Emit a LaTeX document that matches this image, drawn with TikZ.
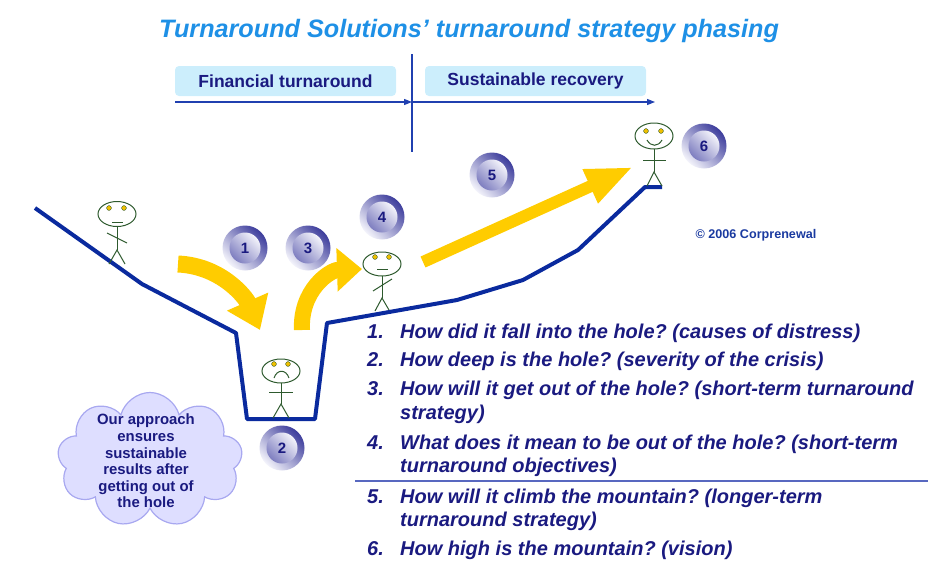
\documentclass[tikz,border=0pt]{standalone}
\usepackage{fontspec}
\setmainfont{Liberation Sans}
\usetikzlibrary{arrows.meta,shapes.symbols}
\frenchspacing
\definecolor{titleblue}{HTML}{1E90E6}
\definecolor{navy}{HTML}{1A1A80}
\definecolor{terrainblue}{HTML}{0A2A9E}
\definecolor{phasefill}{HTML}{CCEEFC}
\definecolor{axisblue}{HTML}{2040B0}
\definecolor{figgreen}{HTML}{2E5A2E}
\definecolor{eyeyellow}{HTML}{F0C000}
\definecolor{arrowyellow}{HTML}{FFCC00}
\definecolor{clouddraw}{HTML}{A8A8F0}
\definecolor{cloudfill}{HTML}{DEDEFF}
\definecolor{bdark}{HTML}{3C3C9C}
\definecolor{blight}{HTML}{F4F4FB}
\definecolor{bmid}{HTML}{7E7EC0}
\definecolor{copyblue}{HTML}{1A3AA0}
\definecolor{sepblue}{HTML}{5868C0}
\tikzset{
  phase/.style={fill=phasefill, rounded corners=4pt, minimum width=221pt, minimum height=30pt, inner sep=0pt,
    font=\fontsize{17.5}{20}\selectfont\bfseries, text=navy},
  axisline/.style={draw=axisblue, line width=1.1pt, -{Triangle[length=8pt,width=6pt]}},
  vline/.style={draw=axisblue, line width=1.1pt},
  terrain/.style={draw=terrainblue, line width=4pt, line join=round},
  fig/.style={draw=figgreen, line width=1pt},
  eye/.style={fill=eyeyellow, draw=figgreen, line width=0.4pt},
  yarrow/.style={draw=arrowyellow},
  bouter/.style={circle, minimum size=45pt, inner sep=0pt, left color=bdark, right color=blight, shading angle=-45},
  binner/.style={circle, minimum size=31pt, inner sep=0pt, left color=blight, right color=bmid, shading angle=-45,
    font=\fontsize{15}{17}\selectfont\bfseries, text=navy},
  listtxt/.style={anchor=base west, inner sep=0pt, font=\fontsize{20}{22}\selectfont\bfseries\itshape, text=navy},
  sepline/.style={draw=sepblue, line width=1.3pt}
}
\begin{document}
\begin{tikzpicture}[x=1pt,y=-1pt]
\useasboundingbox (0,0) rectangle (950,574);
% title
\node[font=\fontsize{25.2}{29}\selectfont\bfseries\itshape, text=titleblue] (title) at (469,31)
  {Turnaround Solutions’ turnaround strategy phasing};
% phases
\node[phase] (fin) at (285.5,81) {Financial turnaround};
\node[phase] (sus) at (535.5,81) {Sustainable recovery};
\coordinate (a0) at (175,102);
\coordinate (amid) at (412,102);
\coordinate (aend) at (655,102);
\coordinate (v0) at (412,54);
\coordinate (v1) at (412,152);
\draw[axisline] (a0) -- (amid);
\draw[axisline] (amid) -- (aend);
\draw[vline] (v0) -- (v1);
% terrain
\draw[terrain] (35,208) -- (142,284) -- (236,333) -- (247,419) -- (315,419) -- (327,323)
  -- (457,300) -- (523,280) -- (578,250) -- (645,187) -- (662,187);
% yellow arrows
\draw[yarrow, line width=17pt, -{Triangle[length=31pt,width=43pt]}] (178,264) .. controls (222,266) and (246,298) .. (260,330);
\draw[yarrow, line width=16pt, -{Triangle[length=25pt,width=42pt]}] (302,330) .. controls (300,290) and (330,270) .. (362,269);
\draw[yarrow, line width=12pt, -{Triangle[length=47pt,width=34pt]}] (423,262) -- (633,167);
% figure 1
\draw[fig] (117,214) ellipse (19 and 12.5);
\filldraw[eye] (109,208) circle (2.4) (124,208) circle (2.4);
\draw[fig] (112,222) -- (123,222);
\draw[fig] (117,226.5) -- (117,250);
\draw[fig] (107,233) -- (127,243);
\draw[fig] (109,264) -- (117,250) -- (125,264);
% figure 2
\draw[fig] (281,371) ellipse (19 and 12);
\filldraw[eye] (274,364) circle (2.4) (288,364) circle (2.4);
\draw[fig] (274,378) .. controls (277,369) and (286,369) .. (289,378);
\draw[fig] (281,383) -- (281,404);
\draw[fig] (269,392) -- (293,392);
\draw[fig] (273,418) -- (281,404) -- (289,418);
% figure 3
\draw[fig] (382,264) ellipse (19 and 12);
\filldraw[eye] (375,257) circle (2.4) (389,257) circle (2.4);
\draw[fig] (377,269) -- (388,269);
\draw[fig] (382,276) -- (382,298);
\draw[fig] (373,291) -- (392,279);
\draw[fig] (375,311) -- (382,298) -- (389,310);
% figure 4
\draw[fig] (654,136) ellipse (19 and 13);
\filldraw[eye] (646,131) circle (2.4) (661,131) circle (2.4);
\draw[fig] (647,140) .. controls (651,147) and (658,147) .. (662,140);
\draw[fig] (654,149) -- (654,172);
\draw[fig] (643,160) -- (666,160);
\draw[fig] (647,186) -- (654,172) -- (662,186);
% badges
\node[bouter] (b1o) at (245,248) {};
\node[binner] (b1) at (b1o) {1};
\node[bouter] (b2o) at (282,448) {};
\node[binner] (b2) at (b2o) {2};
\node[bouter] (b3o) at (308,248) {};
\node[binner] (b3) at (b3o) {3};
\node[bouter] (b4o) at (382,217) {};
\node[binner] (b4) at (b4o) {4};
\node[bouter] (b5o) at (492,175) {};
\node[binner] (b5) at (b5o) {5};
\node[bouter] (b6o) at (704,146) {};
\node[binner] (b6) at (b6o) {6};
% cloud
\node[cloud, cloud puffs=9, aspect=1.35, draw=clouddraw, fill=cloudfill, line width=1.2pt,
  minimum width=185pt, minimum height=135pt, inner sep=0pt] (cloud) at (150,460) {};
\node[font=\fontsize{14.9}{16.6}\selectfont\bfseries, text=navy, align=center] (cloudtxt) at (146,461)
  {Our approach\\ensures\\sustainable\\results after\\getting out of\\the hole};
% copyright
\node[font=\fontsize{12.6}{14}\selectfont\bfseries, text=copyblue] (copy) at (756,235) {© 2006 Corprenewal};
% list
\node[listtxt] (n1) at (367,338) {1.};
\node[listtxt] (t1) at (400,338) {How did it fall into the hole? (causes of distress)};
\node[listtxt] (n2) at (367,366) {2.};
\node[listtxt] (t2) at (400,366) {How deep is the hole? (severity of the crisis)};
\node[listtxt] (n3) at (367,395) {3.};
\node[listtxt] (t3) at (400,395) {How will it get out of the hole? (short-term turnaround};
\node[listtxt] (t3b) at (400,419) {strategy)};
\node[listtxt] (n4) at (367,449) {4.};
\node[listtxt] (t4) at (400,449) {What does it mean to be out of the hole? (short-term};
\node[listtxt] (t4b) at (400,472) {turnaround objectives)};
\coordinate (s0) at (355,481);
\coordinate (s1) at (928,481);
\draw[sepline] (s0) -- (s1);
\node[listtxt] (n5) at (367,503) {5.};
\node[listtxt] (t5) at (400,503) {How will it climb the mountain? (longer-term};
\node[listtxt] (t5b) at (400,526) {turnaround strategy)};
\node[listtxt] (n6) at (367,555) {6.};
\node[listtxt] (t6) at (400,555) {How high is the mountain? (vision)};
\end{tikzpicture}
\end{document}
